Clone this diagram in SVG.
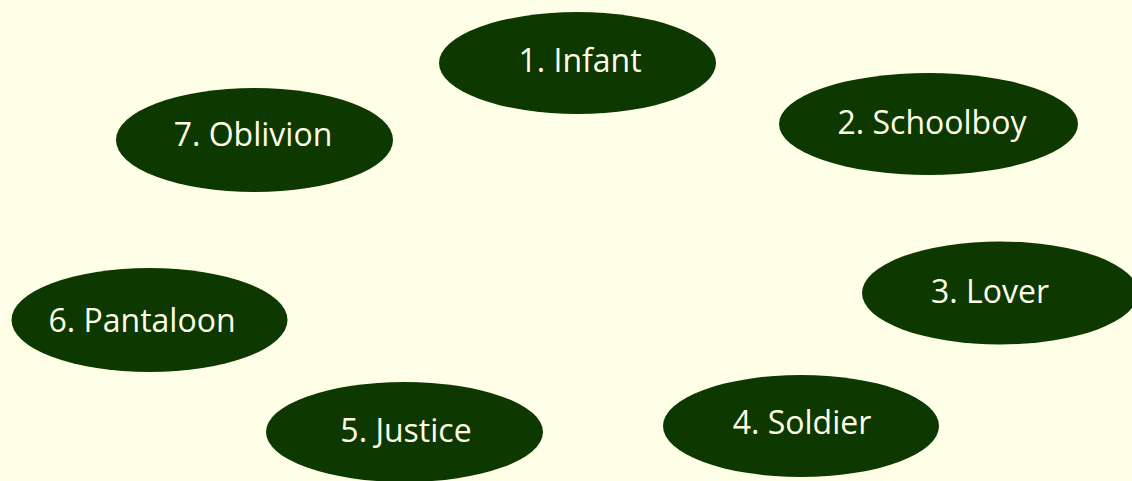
<svg xmlns="http://www.w3.org/2000/svg" width="1132" height="481" viewBox="0 0 1132 481">
<style>
.bg{fill:#FFFFE8}
.n ellipse{fill:#0D3800}
.n text{fill:#FFFFE8;font-family:"Open Sans","Noto Sans",sans-serif;font-size:32px;text-anchor:middle}
</style>
<rect class="bg" x="0" y="0" width="1132" height="481"/>
<g id="connectors"></g>
<g id="n1" class="n"><ellipse cx="577.5" cy="63" rx="138.5" ry="51"/><text x="580" y="72">1. Infant</text></g>
<g id="n2" class="n"><ellipse cx="928.5" cy="124" rx="149.5" ry="51"/><text x="932" y="134">2. Schoolboy</text></g>
<g id="n3" class="n"><ellipse cx="1000" cy="293" rx="138" ry="51.5"/><text x="990" y="303">3. Lover</text></g>
<g id="n4" class="n"><ellipse cx="801" cy="426" rx="138" ry="51"/><text x="802" y="434">4. Soldier</text></g>
<g id="n5" class="n"><ellipse cx="404.5" cy="432" rx="138.5" ry="50"/><text x="406" y="442">5. Justice</text></g>
<g id="n6" class="n"><ellipse cx="149.5" cy="320" rx="138" ry="52"/><text x="142" y="332">6. Pantaloon</text></g>
<g id="n7" class="n"><ellipse cx="254.5" cy="140" rx="138.5" ry="52"/><text x="253" y="146">7. Oblivion</text></g>
</svg>
